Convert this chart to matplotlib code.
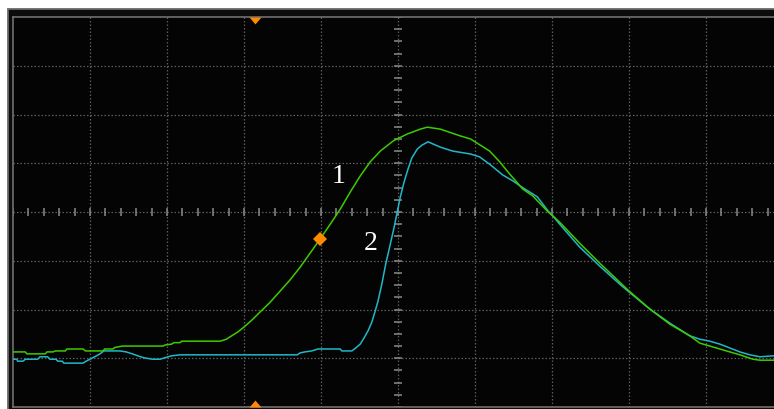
import matplotlib
matplotlib.use("Agg")
import matplotlib.pyplot as plt
import numpy as np
from matplotlib.patches import Rectangle

# screen grid: 10 time divisions, 8 amplitude divisions (values in divisions)
trace1_t = [0.00, 0.16, 0.18, 0.42, 0.44, 0.52, 0.55, 0.68, 0.70, 0.91,
            0.94, 1.17, 1.19, 1.30, 1.32, 1.42, 1.95, 1.97, 2.06, 2.09,
            2.17, 2.19, 2.69, 2.77, 2.84, 2.92, 3.00, 3.10, 3.21, 3.34,
            3.47, 3.60, 3.73, 3.86, 3.99, 4.12, 4.25, 4.38, 4.51, 4.64,
            4.77, 4.94, 5.12, 5.29, 5.38, 5.55, 5.81, 5.94, 6.19, 6.32,
            6.45, 6.62, 6.75, 6.95, 7.01, 7.10, 7.36, 7.62, 7.88, 8.00,
            8.27, 8.53, 8.79, 8.92, 9.18, 9.44, 9.61, 9.70, 9.88, 10.0]
trace1_v = [-2.87, -2.87, -2.91, -2.91, -2.87, -2.87, -2.85, -2.85, -2.81, -2.81,
            -2.85, -2.85, -2.81, -2.81, -2.78, -2.75, -2.75, -2.73, -2.71, -2.68,
            -2.68, -2.65, -2.65, -2.61, -2.54, -2.46, -2.36, -2.22, -2.05, -1.85,
            -1.62, -1.39, -1.13, -0.84, -0.55, -0.25, 0.06, 0.41, 0.74, 1.03,
            1.25, 1.46, 1.60, 1.70, 1.74, 1.70, 1.56, 1.50, 1.25, 1.03,
            0.78, 0.47, 0.33, 0.00, -0.08, -0.21, -0.64, -1.05, -1.44, -1.62,
            -1.99, -2.30, -2.54, -2.69, -2.81, -2.93, -3.02, -3.04, -3.04, -3.04]

trace2_t = [0.00, 0.05, 0.06, 0.13, 0.16, 0.32, 0.35, 0.45, 0.48, 0.56,
            0.58, 0.64, 0.66, 0.91, 0.95, 1.00, 1.06, 1.13, 1.18, 1.39,
            1.47, 1.55, 1.62, 1.70, 1.81, 1.91, 1.97, 2.06, 2.17, 3.69,
            3.73, 3.79, 3.88, 3.96, 4.25, 4.27, 4.40, 4.45, 4.51, 4.56,
            4.61, 4.66, 4.70, 4.74, 4.79, 4.84, 4.90, 4.95, 4.99, 5.03,
            5.08, 5.13, 5.18, 5.25, 5.31, 5.39, 5.55, 5.71, 5.94, 6.06,
            6.19, 6.36, 6.49, 6.61, 6.81, 6.95, 7.01, 7.10, 7.36, 7.62,
            7.88, 8.00, 8.27, 8.53, 8.79, 8.92, 9.05, 9.18, 9.31, 9.44,
            9.57, 9.70, 9.88, 10.0]
trace2_v = [-3.02, -3.02, -3.06, -3.06, -3.02, -3.02, -2.97, -2.97, -3.02, -3.02,
            -3.06, -3.06, -3.10, -3.10, -3.06, -3.02, -2.97, -2.91, -2.85, -2.85,
            -2.87, -2.91, -2.95, -2.99, -3.02, -3.02, -2.99, -2.95, -2.93, -2.93,
            -2.89, -2.87, -2.85, -2.81, -2.81, -2.85, -2.85, -2.79, -2.71, -2.58,
            -2.44, -2.26, -2.05, -1.83, -1.48, -1.07, -0.66, -0.31, 0.00, 0.31,
            0.62, 0.88, 1.11, 1.29, 1.37, 1.44, 1.33, 1.25, 1.19, 1.13,
            0.98, 0.76, 0.64, 0.51, 0.31, 0.02, -0.08, -0.25, -0.72, -1.11,
            -1.48, -1.64, -1.99, -2.28, -2.54, -2.61, -2.65, -2.71, -2.79, -2.87,
            -2.93, -2.97, -2.95, -2.95]

trigger_t = 3.14
cursor_t, cursor_v = 3.99, -0.55

green = '#3ccc00'
cyan = '#20b8c8'
orange = '#ff8a00'
grid_col = '#5c5c5c'

W, H = 774, 410
fig = plt.figure(figsize=(W / 100, H / 100), dpi=100, facecolor='white')

# outer instrument frame
frame = Rectangle((7.5 / W, -0.1), 1.2, (H - 9.5) / H + 0.1,
                  transform=fig.transFigure, facecolor='#0c0c0c',
                  edgecolor='#6a6a6a', linewidth=1.3, zorder=-10)
fig.patches.append(frame)

ax = fig.add_axes([13 / W, 2 / H, 770 / W, 390 / H])
ax.set_zorder(5)
ax.set_facecolor('#040404')
ax.set_xlim(0, 10)
ax.set_ylim(-4, 4)
ax.set_xticks([])
ax.set_yticks([])
for sp in ax.spines.values():
    sp.set_color('#707070')
    sp.set_linewidth(1.2)

# dotted graticule
for x in range(1, 10):
    ax.axvline(x, color=grid_col, lw=0.9, ls=(0, (1.2, 1.6)), zorder=1)
for y in range(-3, 4):
    ax.axhline(y, color=grid_col, lw=0.9, ls=(0, (1.2, 1.6)), zorder=1)

# center axis minor ticks
xt = np.arange(0, 10.01, 0.2)
ax.vlines(xt, -0.09, 0.09, color='#8a8a8a', lw=1.1, zorder=2)
yt = np.arange(-4, 4.01, 0.25)
ax.hlines(yt, 4.95, 5.05, color='#8a8a8a', lw=1.1, zorder=2)

ax.plot(trace1_t, trace1_v, color=green, lw=1.1, zorder=4)
ax.plot(trace2_t, trace2_v, color=cyan, lw=1.1, zorder=3)

ax.plot([cursor_t], [cursor_v], marker='D', color=orange, markersize=7.3,
        markeredgewidth=0, zorder=6)

tri_down = [(-6, 0), (6, 0), (0, -7)]
tri_up = [(-6, 0), (6, 0), (0, 7)]
ax.plot([trigger_t], [4], marker=tri_down, color=orange, markersize=10,
        markeredgewidth=0, clip_on=False, zorder=7)
ax.plot([trigger_t], [-4], marker=tri_up, color=orange, markersize=10,
        markeredgewidth=0, clip_on=False, zorder=7)

ax.text(4.23, 0.74, '1', color='white', fontsize=20, family='Liberation Serif',
        ha='center', va='center', zorder=8)
ax.text(4.65, -0.62, '2', color='white', fontsize=20, family='Liberation Serif',
        ha='center', va='center', zorder=8)

fig.savefig('out.png', dpi=100, facecolor='white')
